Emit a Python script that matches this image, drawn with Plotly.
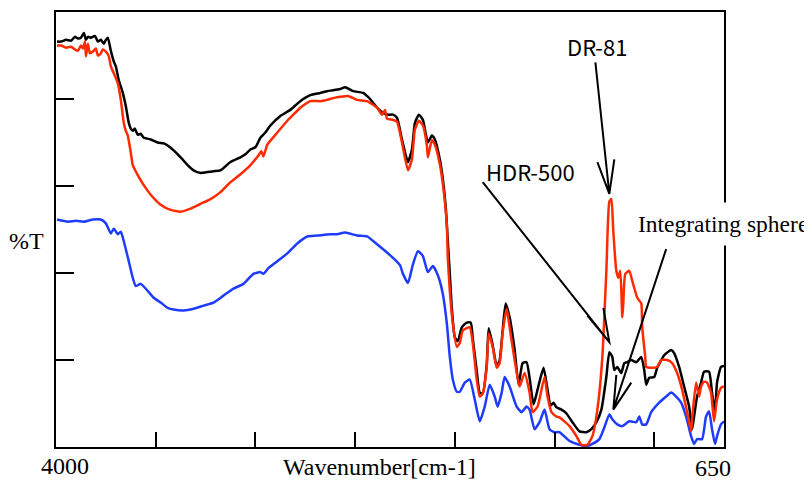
import plotly.graph_objects as go

# ---- data (wavenumber cm-1, %T) ----
wn_black = [3995,3975,3950,3925,3905,3890,3875,3860,3850,3840,3825,3805,3790,3775,3760,3750,3740,3725,3710,3700,
            3685,3665,3650,3635,3625,3615,3605,3590,3575,3560,3525,3490,3460,3440,3410,3375,3340,3310,3275,3240,
            3210,3175,3125,3075,3050,3025,3000,2975,2950,2925,2875,2825,2775,2725,2675,2640,2610,2575,2550,2510,
            2460,2425,2390,2360,2335,2310,2290,2265,2235,2215,2200,2180,2160,2135,2115,2100,2075,2060,2045,2035,
            2025,2015,2000,1985,1965,1940,1920,1910,1890,1875,1860,1840,1830,1810,1790,1775,1760,1745,1725,1700,
            1680,1660,1640,1625,1605,1585,1555,1535,1520,1505,1490,1465,1440,1410,1375,1340,1315,1290,1265,1240,
            1225,1210,1200,1185,1165,1150,1135,1115,1090,1065,1050,1040,1025,1000,985,950,915,900,875,850,
            825,810,800,785,765,750,725,710,695,685,665,650]
t_black = [93.2,93.2,93.6,93.4,94.3,93.9,94.1,95.2,93.6,94.3,94.1,94.5,93.2,93.6,92.7,93.6,94.1,91.1,88.6,87.5,
           84.3,81.4,78.4,74.5,73.2,72.7,73.2,71.8,72.0,71.1,70.7,70.0,69.8,69.3,68.2,66.6,64.8,63.6,63.0,63.2,
           63.4,63.6,65.5,66.6,67.3,68.4,68.9,71.1,72.3,73.9,76.1,77.5,79.5,80.9,81.4,81.8,82.0,82.3,82.7,81.8,
           81.4,80.0,78.0,76.8,76.4,76.4,75.7,70.7,65.5,68.4,74.5,76.4,75.2,70.0,71.6,70.7,66.1,61.6,54.8,47.3,
           39.8,32.0,25.2,24.3,27.5,28.6,28.6,25.0,17.5,12.5,12.3,18.9,27.3,23.4,18.6,20.0,26.8,33.0,29.8,22.3,
           14.3,19.3,19.5,15.9,9.8,13.2,18.2,13.2,9.5,10.2,9.1,8.6,7.7,5.7,3.6,3.4,4.1,5.7,8.6,16.1,
           21.8,20.7,17.7,18.4,17.0,19.3,19.5,20.0,19.5,20.7,17.7,14.3,15.9,16.1,18.2,21.1,22.3,21.6,18.4,13.9,
           9.3,4.1,7.0,11.6,14.8,17.3,17.3,12.5,8.0,14.8,18.4,18.6]

wn_red = [3995,3975,3950,3925,3905,3890,3875,3865,3855,3850,3840,3830,3815,3800,3790,3775,3765,3750,3735,3725,
          3710,3690,3675,3660,3650,3640,3625,3615,3590,3560,3525,3475,3425,3375,3325,3275,3225,3175,3125,3075,
          3025,2985,2970,2960,2940,2890,2840,2790,2775,2725,2675,2640,2610,2575,2535,2490,2440,2390,2365,2350,
          2340,2310,2290,2265,2235,2215,2200,2180,2160,2140,2135,2115,2100,2075,2055,2040,2035,2025,2010,1990,
          1975,1960,1925,1910,1890,1875,1860,1840,1830,1810,1790,1775,1760,1740,1725,1700,1675,1650,1625,1610,
          1585,1550,1535,1515,1490,1475,1425,1390,1365,1335,1310,1285,1260,1240,1225,1215,1205,1190,1180,1170,
          1160,1155,1145,1125,1110,1085,1065,1060,1045,1040,1010,985,965,935,910,885,860,835,815,810,
          790,775,765,750,735,715,700,685,665,650]
t_red = [92.3,92.3,91.8,92.0,91.4,91.1,92.3,91.6,93.2,89.8,92.7,90.5,90.9,91.6,90.0,90.5,91.4,90.9,89.8,87.5,
         85.9,83.6,79.8,74.5,72.7,71.6,67.7,64.8,62.5,60.2,58.0,55.7,54.5,54.1,54.8,55.9,57.0,58.6,60.9,62.7,
         64.8,67.0,68.0,66.8,69.5,72.3,75.0,77.3,78.0,79.5,79.5,79.8,80.2,80.5,80.7,79.8,79.5,78.0,76.4,77.5,
         75.5,75.2,74.8,70.0,63.6,66.1,73.0,75.0,73.9,69.3,66.6,70.5,69.5,65.0,58.6,51.1,43.4,35.9,28.4,23.0,
         23.9,26.8,27.5,23.9,15.5,11.6,12.3,18.4,26.1,23.0,18.2,19.3,26.4,31.8,27.5,20.0,13.9,17.0,12.5,8.0,
         9.3,16.1,11.6,8.0,7.0,6.8,4.8,2.5,0.5,0.5,2.5,8.6,20.7,40.5,56.4,57.0,49.5,40.5,38.9,40.5,
         29.8,33.0,39.8,40.5,38.2,34.3,33.0,27.5,20.7,18.4,18.2,18.4,20.0,20.0,19.3,17.0,13.2,8.0,3.6,6.4,
         14.8,11.6,13.9,15.0,14.8,12.5,5.9,10.9,13.6,13.9]

wn_blue = [3995,3940,3900,3860,3815,3775,3750,3725,3710,3690,3675,3660,3635,3615,3600,3575,3540,3510,3475,3440,
           3410,3360,3310,3260,3210,3160,3110,3060,3010,2975,2960,2935,2890,2840,2790,2740,2690,2625,2590,2550,
           2490,2440,2390,2325,2275,2260,2235,2210,2185,2160,2135,2110,2085,2060,2040,2025,2010,1990,1975,1950,
           1925,1900,1875,1850,1825,1800,1785,1765,1750,1725,1690,1665,1640,1625,1600,1575,1550,1525,1500,1475,
           1425,1375,1340,1310,1275,1250,1225,1210,1185,1160,1125,1090,1075,1060,1040,1015,975,940,915,890,
           865,840,815,800,785,760,740,725,710,695,685,665,650]
t_blue = [52.3,51.8,52.0,51.8,52.3,52.3,51.4,49.1,50.2,48.9,49.5,47.3,42.7,38.9,37.0,37.5,35.9,34.3,33.2,32.0,
          31.6,31.4,31.8,32.5,33.2,34.8,36.4,37.5,39.8,40.2,39.8,41.1,42.7,44.5,46.8,48.4,48.6,48.9,48.9,49.3,
          48.6,48.4,46.6,44.1,41.8,39.8,37.7,42.0,45.0,43.9,40.2,41.6,39.5,35.2,28.4,20.7,15.5,12.7,12.7,14.8,
          15.5,10.9,5.9,9.3,14.3,11.6,9.3,12.5,16.1,13.9,9.3,8.0,9.3,8.6,4.1,5.7,8.6,4.1,3.4,3.4,
          1.4,0.5,0.2,0.7,1.8,4.5,7.5,6.4,5.2,4.8,5.9,5.7,7.0,5.2,5.2,8.0,10.2,11.6,12.5,11.6,
          10.2,7.0,2.5,0.7,1.8,1.8,7.0,8.2,4.1,0.7,2.5,5.2,5.9]

x_tick_vals = [3500, 3000, 2500, 2000, 1500, 1000]
y_tick_vals = [20, 40, 60, 80]

# callout arrows: (start, tip, wing1, wing2) in (wavenumber, %T)
arrows = [
    ((1295, 88.4), (1225, 58.2), (1285, 65.5), (1200, 66.1)),   # DR-81
    ((1860, 60.9), (1225, 24.1), (1335, 30.2), (1255, 32.0)),   # HDR-500
    ((940, 45.5), (1205, 8.6), (1190, 16.6), (1115, 14.8)),     # Integrating sphere
]

fig = go.Figure()
line_kw = dict(width=2.5, shape="spline", smoothing=0.5)
fig.add_trace(go.Scatter(x=wn_blue, y=t_blue, mode="lines", line=dict(color="#1e3cff", **line_kw), showlegend=False))
fig.add_trace(go.Scatter(x=wn_black, y=t_black, mode="lines", line=dict(color="#000000", **line_kw), showlegend=False))
fig.add_trace(go.Scatter(x=wn_red, y=t_red, mode="lines", line=dict(color="#ff2a00", **line_kw), showlegend=False))

for s, t, w1, w2 in arrows:
    path = (f"M {s[0]},{s[1]} L {t[0]},{t[1]} "
            f"M {w1[0]},{w1[1]} L {t[0]},{t[1]} L {w2[0]},{w2[1]}")
    fig.add_shape(type="path", path=path, xref="x", yref="y",
                  line=dict(color="black", width=2), layer="above")

serif = "Liberation Serif, Times New Roman, serif"
gothic = "Noto Sans CJK JP, sans-serif"

ann = [
    dict(text="4000", x=0.0135, y=-0.0435, font=dict(family=serif, size=24, color="black")),
    dict(text="650", x=0.9835, y=-0.048, font=dict(family=serif, size=24, color="black")),
    dict(text="Wavenumber[cm-1]", x=0.485, y=-0.0458, font=dict(family=serif, size=24, color="black")),
    dict(text="%T", x=-0.0449, y=0.4737, font=dict(family=serif, size=24, color="black")),
    dict(text="DR-81", x=0.810, y=0.922, font=dict(family=gothic, size=22, color="black")),
    dict(text="HDR-500", x=0.7096, y=0.634, font=dict(family=gothic, size=22, color="black")),
    dict(text="Integrating sphere", x=0.998, y=0.5126, font=dict(family=serif, size=23.5, color="black"),
         bgcolor="white", borderpad=8),
]
for a in ann:
    fig.add_annotation(xref="paper", yref="paper", showarrow=False,
                       xanchor="center", yanchor="middle", **a)

axis_common = dict(showgrid=False, zeroline=False, showline=True, linecolor="black",
                   linewidth=2, mirror=True, ticks="inside", tickcolor="black",
                   tickwidth=2, showticklabels=False)
fig.update_xaxes(range=[4000, 650], tickvals=x_tick_vals, ticklen=15, **axis_common)
fig.update_yaxes(range=[0, 100], tickvals=y_tick_vals, ticklen=18, **axis_common)

# the page body adds an 8px margin, so the figure is 8px smaller than the window
fig.update_layout(width=804, height=479, margin=dict(l=48, r=88, t=2, b=40),
                  paper_bgcolor="white", plot_bgcolor="white")
fig.write_html("out.html")
